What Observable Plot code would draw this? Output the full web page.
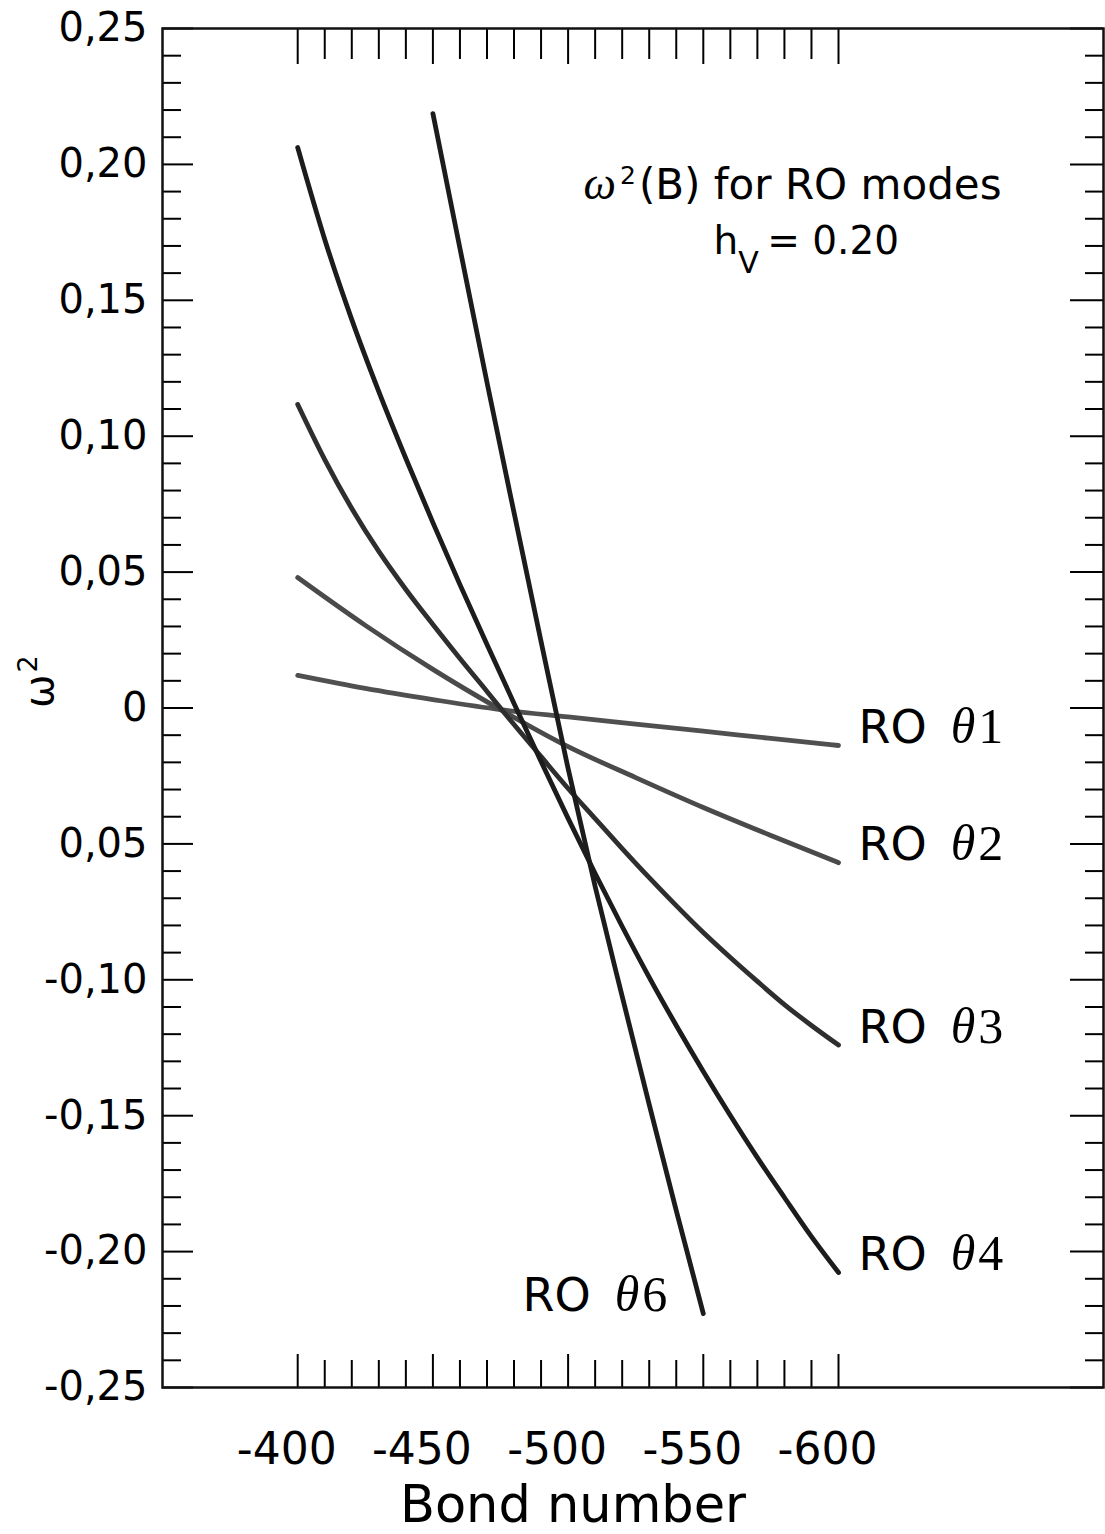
<!DOCTYPE html>
<html><head><meta charset="utf-8">
<script src="https://cdn.jsdelivr.net/npm/d3@7"></script>
<script src="https://cdn.jsdelivr.net/npm/@observablehq/plot@0.6"></script>
<style>
html,body{margin:0;padding:0;background:#fff;}
#chart{width:1105px;height:1534px;overflow:hidden;}
</style></head><body><div id="chart"></div>
<script>
// ---- data ----
const bond12 = [-400, -425, -450, -475, -500, -525, -550, -575, -600];
const ro1 = [0.0120, 0.0072, 0.0031, -0.0006, -0.0033, -0.0059, -0.0085, -0.0112, -0.0138];
const ro2 = [0.0480, 0.0304, 0.0142, -0.0006, -0.0142, -0.0256, -0.0366, -0.0469, -0.0569];
const bond34 = [-400, -410, -420, -430, -440, -450, -460, -470, -480, -490, -500,
                -510, -520, -530, -540, -550, -560, -570, -580, -590, -600];
const ro3 = [0.1117, 0.0914, 0.0734, 0.0576, 0.0436, 0.0307, 0.0182, 0.0061, -0.0061, -0.0179, -0.0296,
             -0.0407, -0.0517, -0.0624, -0.0727, -0.0826, -0.0918, -0.1006, -0.1091, -0.1168, -0.1240];
const ro4 = [0.2062, 0.1724, 0.1429, 0.1164, 0.0918, 0.0682, 0.0454, 0.0234, 0.0017, -0.0197, -0.0406,
             -0.0609, -0.0804, -0.0991, -0.1168, -0.1337, -0.1499, -0.1654, -0.1801, -0.1945, -0.2077];
const bond6 = [-450, -460, -470, -480, -490, -500, -510, -520, -530, -540, -550];
const ro6 = [0.2187, 0.1691, 0.1198, 0.0719, 0.0245, -0.0223, -0.0657, -0.1061, -0.1459, -0.1849, -0.2228];
const seriesNames = ["RO θ1", "RO θ2", "RO θ3", "RO θ4", "RO θ6"];

const xTicks = [-400, -450, -500, -550, -600];
const xTickLabels = ["-400", "-450", "-500", "-550", "-600"];
const yTicks = [0.25, 0.20, 0.15, 0.10, 0.05, 0, -0.05, -0.10, -0.15, -0.20, -0.25];
const yTickLabels = ["0,25", "0,20", "0,15", "0,10", "0,05", "0", "0,05", "-0,10", "-0,15", "-0,20", "-0,25"];
const xTitle = "Bond number";
const yTitle = "ω2";
const annot1 = "ω2(B) for RO modes";
const annot2 = "hV = 0.20";

// ---- layout ----
const W = 1105, H = 1534, mL = 162, mR = 2, mT = 28, mB = 147;
const fw = W - mL - mR, fh = H - mT - mB;
const sans = "'DejaVu Sans', 'Liberation Sans', sans-serif";
const serif = "'Liberation Serif', 'DejaVu Serif', serif";

const xMinor = d3.range(-400, -601, -10).filter(v => v % 50 !== 0);
const yMinor = d3.range(-25, 26).filter(v => v % 5 !== 0).map(v => v / 100);

const seriesX = [bond12, bond12, bond34, bond34, bond6];
const seriesY = [ro1, ro2, ro3, ro4, ro6];
const strokes = ["#505050", "#4a4a4a", "#2e2e2e", "#1c1c1c", "#1c1c1c"];

const lineMarks = seriesNames.map((name, k) =>
  Plot.line(seriesX[k].map((x, i) => ({bond: x, w2: seriesY[k][i]})), {
    x: "bond", y: "w2", stroke: strokes[k], strokeWidth: 4.8,
    curve: "monotone-x", strokeLinecap: "round", strokeLinejoin: "round"
  })
);
const ends = seriesNames.map((name, k) => ({
  name, bond: seriesX[k][seriesX[k].length - 1], w2: seriesY[k][seriesY[k].length - 1]
}));

const plot = Plot.plot({
  width: W, height: H,
  marginLeft: mL, marginRight: mR, marginTop: mT, marginBottom: mB,
  x: {domain: [-350, -698]},
  y: {domain: [-0.25, 0.25]},
  style: {fontFamily: sans, background: "white", color: "black"},
  marks: [
    // inward ticks, left / right
    Plot.tickY(yMinor, {y: d => d, insetRight: fw - 19, strokeWidth: 2}),
    Plot.tickY(yTicks, {y: d => d, insetRight: fw - 31, strokeWidth: 2}),
    Plot.tickY(yMinor, {y: d => d, insetLeft: fw - 18, strokeWidth: 2}),
    Plot.tickY(yTicks, {y: d => d, insetLeft: fw - 33, strokeWidth: 2}),
    // inward ticks, top / bottom
    Plot.tickX(xMinor, {x: d => d, insetBottom: fh - 31, strokeWidth: 2}),
    Plot.tickX(xTicks, {x: d => d, insetBottom: fh - 36, strokeWidth: 2}),
    Plot.tickX(xMinor, {x: d => d, insetTop: fh - 27, strokeWidth: 2}),
    Plot.tickX(xTicks, {x: d => d, insetTop: fh - 33, strokeWidth: 2}),
    Plot.frame({stroke: "#111", strokeWidth: 2.5}),
    Plot.axisY(yTicks, {anchor: "left", tickSize: 0, tickPadding: 15, fontSize: 40,
      tickFormat: d => yTickLabels[yTicks.indexOf(d)], label: null}),
    Plot.axisX(xTicks, {anchor: "bottom", tickSize: 0, tickPadding: 45, fontSize: 44, dx: -11,
      tickFormat: d => xTickLabels[xTicks.indexOf(d)], label: null}),
    ...lineMarks,
    Plot.text(ends.slice(0, 4), {x: "bond", y: "w2", text: "name", textAnchor: "start",
      dx: 20, dy: -17, fontSize: 46}),
    Plot.text(ends.slice(4), {x: "bond", y: "w2", text: "name", textAnchor: "end",
      dx: -36, dy: -17, fontSize: 46}),
    Plot.text([annot1], {frameAnchor: "top-left", lineAnchor: "middle", dx: 421, dy: 157,
      textAnchor: "start", fontSize: 42}),
    Plot.text([annot2], {frameAnchor: "top-left", lineAnchor: "middle", dx: 551, dy: 213,
      textAnchor: "start", fontSize: 39}),
    Plot.text([xTitle], {frameAnchor: "bottom", lineAnchor: "middle", dx: -60, dy: 118, fontSize: 51}),
    Plot.text([yTitle], {frameAnchor: "left", lineAnchor: "middle", dx: -122, rotate: -90, fontSize: 40})
  ]
});
document.getElementById("chart").appendChild(plot);

// ---- rich text (italic serif theta/omega, super/subscripts) ----
d3.select(plot).selectAll("text").each(function() {
  const t = d3.select(this);
  const s = this.textContent;
  if (seriesNames.includes(s)) {
    const [ro, th] = s.split(" ");
    t.text(null);
    t.append("tspan").text(ro);
    t.append("tspan").attr("dx", 24).attr("font-family", serif).attr("font-style", "italic")
      .attr("font-size", 50).text(th[0]);
    t.append("tspan").attr("dx", 3).attr("font-family", serif).attr("font-size", 50).text(th.slice(1));
  } else if (s === annot1) {
    t.text(null);
    t.append("tspan").attr("font-family", serif).attr("font-style", "italic").attr("font-size", 46).text(s[0]);
    t.append("tspan").attr("dx", 4).attr("dy", -15).attr("font-size", 25).text(s[1]);
    t.append("tspan").attr("dx", 3).attr("dy", 15).text(s.slice(2));
  } else if (s === annot2) {
    t.text(null);
    t.append("tspan").text(s[0]);
    t.append("tspan").attr("dx", 0).attr("dy", 19).attr("font-size", 30).text(s[1]);
    t.append("tspan").attr("dx", -4).attr("dy", -19).text(s.slice(2));
  } else if (s === yTitle) {
    t.text(null);
    t.append("tspan").text(s[0]);
    t.append("tspan").attr("dx", 2).attr("dy", -16).attr("font-size", 27).text(s[1]);
  }
});
</script>
</body></html>
